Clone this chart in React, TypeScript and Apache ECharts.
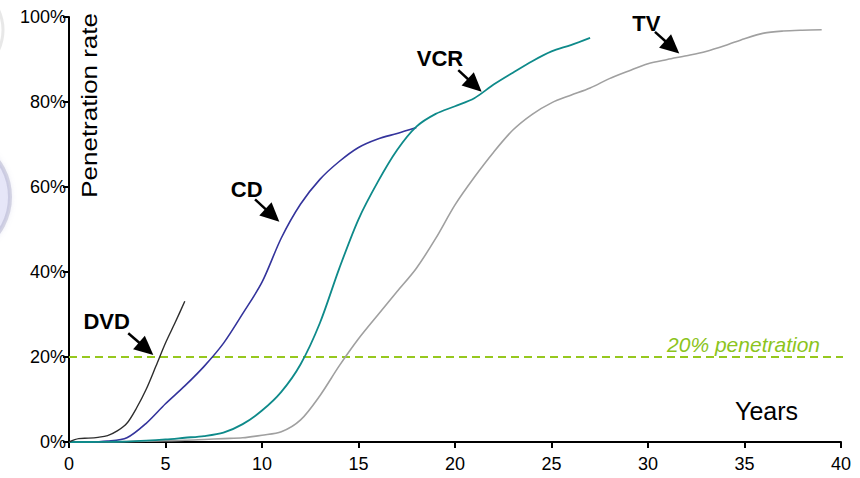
import React, { useEffect, useRef } from "react";
import * as echarts from "echarts";

// Axis ranges (years since launch, household penetration in %)
const yearAxis = { min: 0, max: 40, interval: 5 };
const rateAxis = { min: 0, max: 100, interval: 20 };

// DVD adoption, half-year steps
const dvdYears = [0, 0.5, 1, 1.5, 2, 2.5, 3, 3.5, 4, 4.5, 5, 5.5, 6];
const dvdRates = [0, 0.8, 0.9, 1.1, 1.5, 2.6, 4.4, 8.0, 12.4, 17.8, 23.3, 28.1, 33.1];

// CD adoption
const cdYears = [0, 1, 2, 3, 4, 5, 6, 7, 8, 9, 10, 11, 12, 13, 14, 15, 16, 17, 18];
const cdRates = [0, 0, 0.2, 1.0, 4.4, 9.0, 13.2, 17.8, 23.2, 30.2, 37.6, 48.0, 56.0, 61.8, 66.0, 69.3, 71.3, 72.6, 74.0];

// VCR adoption
const vcrYears = [0, 1, 2, 3, 4, 5, 6, 7, 8, 9, 10, 11, 12, 13, 14, 15, 16, 17, 18, 19, 20, 21, 22, 23, 24, 25, 26, 27];
const vcrRates = [0, 0, 0.05, 0.1, 0.3, 0.6, 1.0, 1.4, 2.2, 4.2, 7.4, 11.8, 18.3, 28.0, 40.8, 52.4, 61.2, 68.7, 74.2, 77.2, 79.0, 80.9, 84.1, 86.9, 89.6, 91.9, 93.4, 95.1];

// TV adoption
const tvYears = [0, 1, 2, 3, 4, 5, 6, 7, 8, 9, 10, 11, 12, 13, 14, 15, 16, 17, 18, 19, 20, 21, 22, 23, 24, 25, 26, 27, 28, 29, 30, 31, 32, 33, 34, 35, 36, 37, 38, 39];
const tvRates = [0, 0, 0, 0.1, 0.2, 0.3, 0.4, 0.6, 0.8, 1.0, 1.6, 2.4, 5.2, 10.9, 17.9, 24.3, 29.9, 35.4, 40.9, 47.9, 55.8, 62.3, 68.2, 73.4, 77.1, 79.8, 81.6, 83.3, 85.5, 87.3, 89.0, 90.0, 90.9, 91.9, 93.3, 94.9, 96.2, 96.7, 96.9, 97.0];

// 20% penetration benchmark
const benchmarkYears = [0, 40.55];
const benchmarkRates = [20, 20];
const benchmarkText = "20% penetration";

// Product call-outs: label centre, arrow tail and arrow tip, all in [year, %]
const calloutNames = ["DVD", "CD", "VCR", "TV"];
const calloutLabelAt: [number, number][] = [[1.95, 28.3], [9.21, 59.5], [19.22, 90.2], [29.91, 98.4]];
const calloutTailAt: [number, number][] = [[3.07, 25.6], [9.64, 57.1], [20.17, 87.5], [30.36, 96.5]];
const calloutTipAt: [number, number][] = [[4.37, 20.5], [10.9, 51.8], [21.38, 82.4], [31.62, 91.4]];

const benchmarkLabelAt: [number, number] = [34.95, 23.0];
const yearsTitleAt: [number, number] = [36.14, 7.4];
const rateTitleAt: [number, number] = [1.05, 79.2];

const FONT = "'Liberation Sans', Arial, Helvetica, sans-serif";

const zip = (xs: number[], ys: number[]) => xs.map((x, i) => [x, ys[i]]);

function lineSeries(name: string, xs: number[], ys: number[], color: string, width: number) {
  return {
    type: "line",
    name,
    data: zip(xs, ys),
    symbol: "none",
    showSymbol: false,
    smooth: 0.3,
    lineStyle: { color, width },
    emphasis: { disabled: true },
    silent: true,
  };
}

export default function App() {
  const ref = useRef<HTMLDivElement>(null);

  useEffect(() => {
    if (!ref.current) return;
    const chart = echarts.init(ref.current, undefined, { renderer: "svg" });

    const axisCommon = {
      type: "value",
      axisLine: { show: true, lineStyle: { color: "#000", width: 2 } },
      axisTick: { show: true, length: 6, lineStyle: { color: "#000", width: 2 } },
      splitLine: { show: false },
    };

    chart.setOption({
      animation: false,
      backgroundColor: "#fff",
      grid: { left: 69, right: 19, top: 17, bottom: 36, containLabel: false },
      xAxis: {
        ...axisCommon,
        ...yearAxis,
        axisLabel: { fontSize: 18, color: "#000", fontFamily: FONT, margin: 13 },
      },
      yAxis: {
        ...axisCommon,
        ...rateAxis,
        axisLabel: {
          fontSize: 18,
          color: "#000",
          fontFamily: FONT,
          margin: 3,
          padding: [4, 0, 0, 0],
          formatter: "{value}%",
        },
      },
      series: [
        {
          type: "line",
          name: benchmarkText,
          data: zip(benchmarkYears, benchmarkRates),
          symbol: "none",
          clip: false,
          silent: true,
          lineStyle: { color: "#96c81e", width: 2.2, type: [8, 5] },
          z: 1,
        },
        lineSeries("TV", tvYears, tvRates, "#a0a0a0", 1.6),
        lineSeries("CD", cdYears, cdRates, "#34349c", 1.6),
        lineSeries("VCR", vcrYears, vcrRates, "#0e8a8a", 1.8),
        lineSeries("DVD", dvdYears, dvdRates, "#2e2e2e", 1.4),
      ],
    });

    const toPx = (p: [number, number]) => chart.convertToPixel({ gridIndex: 0 }, p) as number[];

    const arrow = (tail: [number, number], tip: [number, number]) => {
      const [x1, y1] = toPx(tail);
      const [x2, y2] = toPx(tip);
      const dx = x2 - x1;
      const dy = y2 - y1;
      const len = Math.hypot(dx, dy);
      const ux = dx / len;
      const uy = dy / len;
      const headLen = 19;
      const halfW = 9;
      const bx = x2 - ux * headLen;
      const by = y2 - uy * headLen;
      return [
        {
          type: "line",
          silent: true,
          shape: { x1, y1, x2: bx + ux * 2, y2: by + uy * 2 },
          style: { stroke: "#000", lineWidth: 2.5 },
        },
        {
          type: "polygon",
          silent: true,
          shape: {
            points: [
              [x2, y2],
              [bx - uy * halfW, by + ux * halfW],
              [bx + uy * halfW, by - ux * halfW],
            ],
          },
          style: { fill: "#000" },
        },
      ];
    };

    const text = (at: [number, number], content: string, style: Record<string, unknown>, extra: Record<string, unknown> = {}) => {
      const [x, y] = toPx(at);
      return {
        type: "text",
        silent: true,
        x,
        y,
        ...extra,
        style: { text: content, fontFamily: FONT, align: "center", verticalAlign: "middle", fill: "#000", ...style },
      };
    };

    const callouts = calloutNames.flatMap((name, i) => [
      text(calloutLabelAt[i], name, { fontSize: 22, fontWeight: "bold" }),
      ...arrow(calloutTailAt[i], calloutTipAt[i]),
    ]);

    chart.setOption({
      graphic: [
        // soft slide decoration peeking in from the left edge
        {
          type: "circle",
          silent: true,
          z: -10,
          shape: { cx: -51, cy: 197, r: 61 },
          style: {
            fill: "rgba(214,214,248,0.4)",
            stroke: "rgba(170,170,200,0.45)",
            lineWidth: 4,
            shadowBlur: 5,
            shadowColor: "rgba(160,160,210,0.4)",
          },
        },
        {
          type: "circle",
          silent: true,
          z: -10,
          shape: { cx: -44, cy: 30, r: 47 },
          style: { fill: "rgba(255,255,255,0)", stroke: "rgba(190,190,190,0.35)", lineWidth: 3 },
        },
        text(rateTitleAt, "Penetration rate", { fontSize: 22 }, { rotation: Math.PI / 2, scaleX: 1.18 }),
        text(yearsTitleAt, "Years", { fontSize: 25 }),
        text(benchmarkLabelAt, benchmarkText, { fontSize: 21, fontStyle: "italic", fill: "#8cc41c" }),
        ...callouts,
      ],
    });

    return () => chart.dispose();
  }, []);

  return (
    <div
      ref={ref}
      style={{ position: "fixed", left: 0, top: 0, width: 860, height: 478, background: "#fff" }}
    />
  );
}
